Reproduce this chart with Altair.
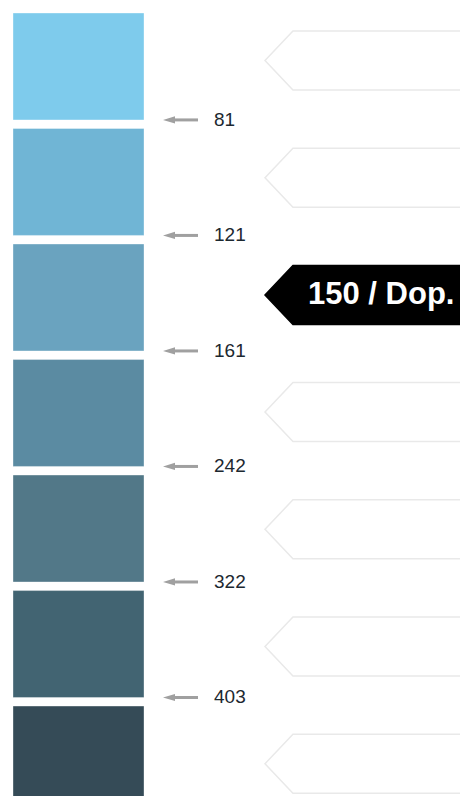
import altair as alt
import pandas as pd

# ---- data ----
classes = ["1", "2", "3", "4", "5", "6", "7"]
class_colors = ["#7ecbec", "#70b5d5", "#6aa3bf", "#5b8ba2", "#527888", "#426472", "#354b57"]
thresholds = [81, 121, 161, 242, 322, 403]
current_value = 150
current_label = "Dop."

active_index = sum(1 for t in thresholds if t < current_value)

blocks = pd.DataFrame({"cls": classes})
bounds = pd.DataFrame({"cls": classes[:-1], "limit": thresholds})
pointers = pd.DataFrame({"slot": classes, "active": [i == active_index for i in range(len(classes))]})
badge = pd.DataFrame({"slot": [classes[active_index]], "label": [f"{current_value} / {current_label}"]})

# ---- scales ----
def band_scale():
    return alt.Scale(type="band", domain=classes, range=[5, 805], paddingInner=0.0744, paddingOuter=0)

def point_scale():
    return alt.Scale(type="point", domain=classes, range=[52.5, 755.7], padding=0)

arrow_grey = "#a0a0a0"

rects = alt.Chart(blocks).mark_rect(clip=True, stroke="white", strokeOpacity=0.35, strokeWidth=1).encode(
    x=alt.value(5),
    x2=alt.value(136),
    y=alt.Y("cls:O", scale=band_scale(), axis=None),
    color=alt.Color("cls:O", scale=alt.Scale(domain=classes, range=class_colors), legend=None),
)

shafts = alt.Chart(bounds).mark_rule(color=arrow_grey, strokeWidth=3).encode(
    x=alt.value(164),
    x2=alt.value(190),
    y=alt.Y("cls:O", scale=band_scale(), axis=None, bandPosition=1),
)

heads = alt.Chart(bounds).mark_point(
    shape="M -1 0 L 1 -0.6 L 1 0.6 Z", filled=True, size=144, color=arrow_grey, opacity=1
).encode(
    x=alt.value(161),
    y=alt.Y("cls:O", scale=band_scale(), axis=None, bandPosition=1),
)

labels = alt.Chart(bounds).mark_text(
    align="left", baseline="middle", font="Liberation Sans", fontSize=19, color="#1c2830"
).encode(
    x=alt.value(206),
    y=alt.Y("cls:O", scale=band_scale(), axis=None, bandPosition=1),
    text=alt.Text("limit:Q"),
)

pointer_path = "M -1 0 L -0.785 -0.227 L 1 -0.227 L 1 0.227 L -0.785 0.227 Z"
tags = alt.Chart(pointers).mark_point(
    shape=pointer_path, size=67600, filled=True, strokeWidth=1.5, opacity=1, clip=True
).encode(
    x=alt.value(387),
    y=alt.Y("slot:O", scale=point_scale(), axis=None),
    fill=alt.condition("datum.active", alt.value("#000000"), alt.value("#ffffff")),
    stroke=alt.condition("datum.active", alt.value("#000000"), alt.value("#e9e9e9")),
)

badge_text = alt.Chart(badge).mark_text(
    align="left", baseline="middle", font="Liberation Sans", fontWeight="bold", fontSize=31, color="white"
).encode(
    x=alt.value(300),
    y=alt.Y("slot:O", scale=point_scale(), axis=None),
    text="label:N",
)

chart = (
    alt.layer(rects, shafts, heads, labels, tags, badge_text)
    .resolve_scale(y="independent")
    .properties(width=452, height=788, padding=0, autosize=alt.AutoSizeParams(type="none"))
    .configure_view(stroke=None)
)

chart.save("out.html", embed_options={"renderer": "svg", "actions": False})
